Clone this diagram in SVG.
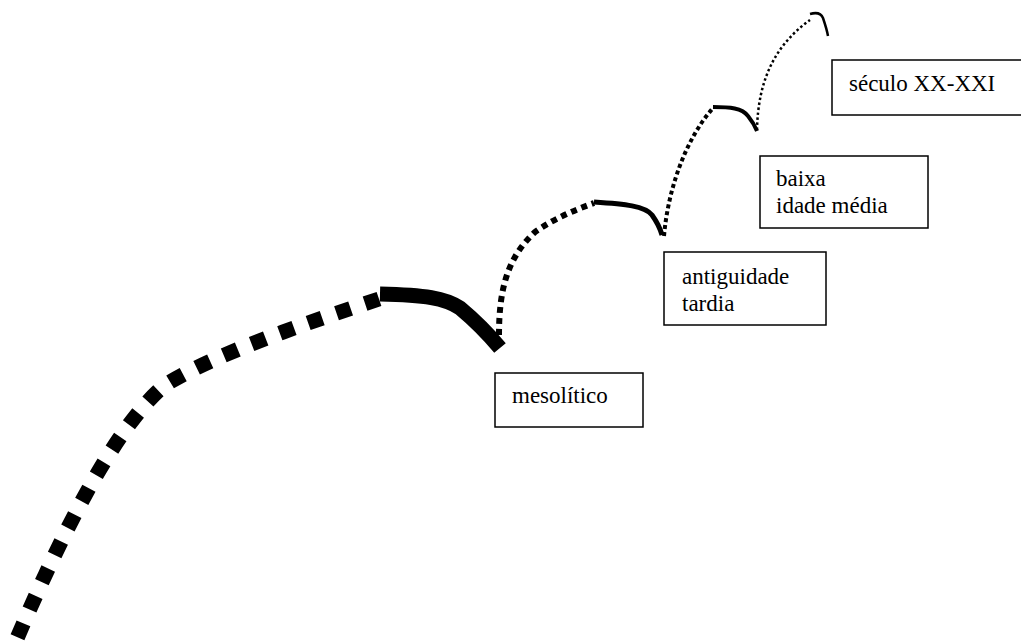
<svg xmlns="http://www.w3.org/2000/svg" width="1021" height="644" viewBox="0 0 1021 644">
<style>
.box{fill:#fff;stroke:#000;stroke-width:1.5}
.lbl{font-family:"Liberation Serif","Times New Roman",serif;font-size:23px;fill:#000}
.ln{fill:none;stroke:#000;stroke-linecap:butt}
</style>
<rect width="1021" height="644" fill="#fff"/>
<g id="connectors">
<path class="ln" d="M 379 299 C 313 321, 216 353, 165 385 C 111 430, 55 549, 12 650" stroke-width="15" stroke-dasharray="15 15"/>
<path class="ln" d="M 380 294 C 425 295, 445 298, 460 308 C 472 318, 485 330, 500 348" stroke-width="15"/>
<path class="ln" d="M 499 335 C 499 290, 507 258, 535 232 C 555 218, 575 210, 594 203" stroke-width="6" stroke-dasharray="6 5"/>
<path class="ln" d="M 594 202 C 625 204, 645 206, 652 215 C 657 222, 660 228, 662 235" stroke-width="5"/>
<path class="ln" d="M 664 236 C 668 190, 685 140, 713 108" stroke-width="4" stroke-dasharray="4 3"/>
<path class="ln" d="M 713 107 C 730 107, 742 108, 748 116 C 752 121, 755 126, 757 131" stroke-width="4"/>
<path class="ln" d="M 757 130 C 758 80, 775 45, 810 20" stroke-width="2.5" stroke-dasharray="2.5 2.5"/>
<path class="ln" d="M 810 14 C 817 12, 821 13, 823 18 C 825 24, 827 30, 828 36" stroke-width="2.5"/>
</g>
<g id="mesolitico">
<rect class="box" x="495" y="373" width="148" height="54"/>
<text class="lbl" x="512" y="403">mesolítico</text>
</g>
<g id="antiguidade">
<rect class="box" x="664" y="252" width="162" height="73"/>
<text class="lbl" x="682" y="284">antiguidade</text>
<text class="lbl" x="682" y="311">tardia</text>
</g>
<g id="baixa">
<rect class="box" x="760" y="156" width="168" height="72"/>
<text class="lbl" x="776" y="186">baixa</text>
<text class="lbl" x="776" y="213">idade média</text>
</g>
<g id="seculo">
<rect class="box" x="832" y="60" width="206" height="55"/>
<text class="lbl" x="849" y="91">século XX-XXI</text>
</g>
</svg>
